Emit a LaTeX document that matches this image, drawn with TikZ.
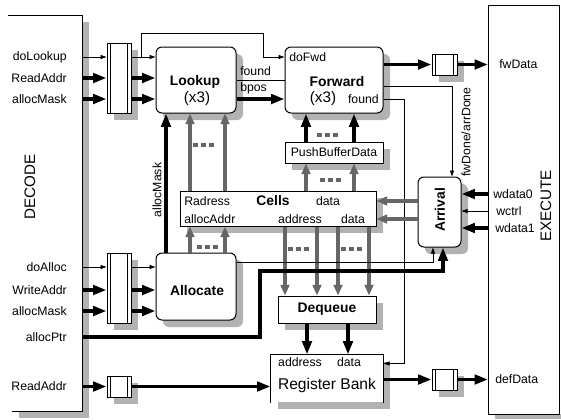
\documentclass[tikz,border=0pt]{standalone}
\usepackage{fontspec}
\setmainfont{Liberation Sans}
\usetikzlibrary{arrows.meta,shadows,calc}
\definecolor{shadegray}{RGB}{178,178,178}
\definecolor{wiregray}{RGB}{102,102,102}

\begin{document}
\begin{tikzpicture}[x=0.75pt, y=-0.75pt,
  every node/.style={font=\fontsize{9.2}{11}\selectfont, inner sep=0pt},
  boxshadow/.style={drop shadow={shadow xshift=5.25pt, shadow yshift=-5.25pt, opacity=1, fill=shadegray}},
  unitbox/.style={rectangle, rounded corners=4.5pt, draw=black, line width=0.75pt, fill=white, boxshadow},
  block/.style={rectangle, draw=black, line width=0.75pt, fill=white, boxshadow},
  latch/.style={rectangle, draw=black, line width=0.75pt, fill=white, boxshadow, minimum width=18pt,
    path picture={
      \draw[line width=0.6pt] ([xshift=2.6pt]path picture bounding box.north west) -- ([xshift=2.6pt]path picture bounding box.south west);
      \draw[line width=0.6pt] ([xshift=-2.6pt]path picture bounding box.north east) -- ([xshift=-2.6pt]path picture bounding box.south east);}},
  title/.style={font=\fontsize{10.4}{12}\selectfont\bfseries},
  mult/.style={font=\fontsize{11.4}{13}\selectfont},
  side/.style={font=\fontsize{11.4}{13}\selectfont, rotate=90},
  thinarr/.style={-{Triangle[length=4.5pt,width=3pt]}, line width=0.6pt},
  thinwire/.style={line width=0.6pt},
  thickarr/.style={-{Triangle[length=10pt,width=7pt]}, line width=2.8pt},
  grayarr/.style={-{Triangle[length=8pt,width=6.5pt]}, line width=2.4pt, draw=wiregray, color=wiregray},
  ellips/.style={line width=2.4pt, draw=wiregray, dash pattern=on 3.75pt off 2.25pt}
]
\useasboundingbox (0,0) rectangle (561,419);

% DECODE stage (left)
\fill[shadegray] (82,22) rectangle (89,418);
\fill[shadegray] (19,411) rectangle (89,418);
\draw[line width=0.75pt] (8,15) -- (82,15) -- (82,411) -- (12,411);
\coordinate (decR) at (82,0);
\node[side] (decodeLbl) at (30,187) {DECODE};

% EXECUTE stage (right)
\fill[shadegray] (495,414) rectangle (561,419);
\draw[line width=0.75pt] (488,5) rectangle (559,414);
\coordinate (exeL) at (488,0);
\node[side] (executeLbl) at (546,206) {EXECUTE};

% pipeline latches
\node[latch, minimum height=52.5pt] (latA) at (119,78) {};
\node[latch, minimum height=52.5pt] (latB) at (119,288) {};
\node[latch, minimum height=15.75pt] (latC) at (119,386.5) {};
\node[latch, minimum width=18.75pt, minimum height=15.75pt] (outA) at (444.5,64.5) {};
\node[latch, minimum width=18.75pt, minimum height=15.75pt] (outB) at (444.5,379.5) {};

% units
\node[unitbox, minimum width=60pt, minimum height=49.5pt] (lookup) at (196,80) {};
\node[unitbox, minimum width=73.5pt, minimum height=49.5pt] (forward) at (334,80) {};
\node[unitbox, minimum width=60pt, minimum height=50.25pt] (allocate) at (196,286.5) {};
\node[block, minimum width=147pt, minimum height=26.25pt] (cells) at (278,208.5) {};
\node[block, minimum width=73.5pt, minimum height=15.75pt] (pbd) at (334,152.5) {PushBufferData};
\node[block, title, minimum width=73.5pt, minimum height=20.25pt] (dequeue) at (327,309.5) {Dequeue};
\node[unitbox, minimum width=32.25pt, minimum height=52.5pt] (arrival) at (439.5,212) {};
\node[block, draw=none, minimum width=84pt, minimum height=35.25pt] (regbank) at (327,378.5) {};
\draw[line width=0.75pt] (regbank.south west) -- (regbank.north west) -- (regbank.north east) -- (regbank.south east);

% texts inside units
\node[title] (lookupTxt) at (195,82) {Lookup};
\node[mult] (lookupMul) at (197,99) {(x3)};
\node[anchor=west] (fwdDo) at (289,57) {doFwd};
\node[title] (fwdTxt) at (337,82) {Forward};
\node[mult] (fwdMul) at (323,99) {(x3)};
\node[anchor=east] (fwdFound) at (379,99) {found};
\node[title] (allocTxt) at (197,291) {Allocate};
\node[title, rotate=90] (arrivalTxt) at (440,210) {Arrival};
\node[anchor=west] (cRad) at (184,201) {Radress};
\node[title] (cTxt) at (273,201) {Cells};
\node (cDataA) at (328,201) {data};
\node[anchor=west] (cAlloc) at (184,219) {allocAddr};
\node (cAddr) at (300,219) {address};
\node (cDataB) at (353,219) {data};
\node (rAddr) at (300,362) {address};
\node (rData) at (349,362) {data};
\node[font=\fontsize{11.7}{14}\selectfont] (rTxt) at (327,385) {Register Bank};

% signal names
\node[anchor=east] (inDoLookup) at (67,57) {doLookup};
\node[anchor=east] (inReadA) at (67,78) {ReadAddr};
\node[anchor=east] (inMaskA) at (67,99) {allocMask};
\node[anchor=east] (inDoAlloc) at (67,267) {doAlloc};
\node[anchor=east] (inWrite) at (67,290) {WriteAddr};
\node[anchor=east] (inMaskB) at (67,311) {allocMask};
\node[anchor=east] (inPtr) at (67,337) {allocPtr};
\node[anchor=east] (inReadB) at (67,386) {ReadAddr};
\node[anchor=west] (outFw) at (499,64) {fwData};
\node[anchor=west] (outDef) at (495,379) {defData};
\node[anchor=west] (inW0) at (493,194) {wdata0};
\node[anchor=west] (inCtrl) at (496,211) {wctrl};
\node[anchor=west] (inW1) at (495,228) {wdata1};
\node[anchor=west] (lkFound) at (240,71) {found};
\node[anchor=west] (lkBpos) at (240,88) {bpos};
\node[rotate=90] (maskLbl) at (157,190) {allocMask};
\node[rotate=90] (doneLbl) at (466,132) {fwDone/arrDone};

% decode -> latches -> lookup / allocate
\foreach \sig/\sty in {inDoLookup/thinarr, inReadA/thickarr, inMaskA/thickarr} {
  \draw[\sty] (decR |- \sig) -- (latA.west |- \sig);
  \draw[\sty] (latA.east |- \sig) -- (lookup.west |- \sig);
}
\foreach \sig/\sty in {inDoAlloc/thinarr, inWrite/thickarr, inMaskB/thickarr} {
  \draw[\sty] (decR |- \sig) -- (latB.west |- \sig);
  \draw[\sty] (latB.east |- \sig) -- (allocate.west |- \sig);
}
\draw[thinarr] ($(latA.east |- inDoLookup)+(10,0)$) -- ++(0,-24) -| ($(forward.west |- inDoLookup)+(-21,0)$) -- (forward.west |- inDoLookup);

% lookup -> forward
\draw[thinwire] (lookup.east) -- (forward.west);
\draw[thickarr] (lookup.east |- lookupMul) -- (forward.west |- lookupMul);

% forward outputs
\draw[thickarr] (forward.east |- outA) -- (outA.west);
\draw[thickarr] (outA.east) -- (exeL |- outA);
\draw[thinarr] ($(forward.east)+(0,6)$) -| ($(arrival.north)+(12.5,0)$);
\draw[thinarr] (forward.east |- fwdFound) -- ++(21,0) |- ($(regbank.north east)+(0,9)$);

% cell array traffic
\foreach \xx in {190,225} {
  \draw[grayarr] (cells.north -| \xx,0) -- (lookup.south -| \xx,0);
  \draw[grayarr] (allocate.north -| \xx,0) -- (cells.south -| \xx,0);
}
\draw[thickarr] (allocate.north -| 166,0) -- (lookup.south -| 166,0);
\foreach \xx in {306,354} {
  \draw[grayarr] (cells.north -| \xx,0) -- (pbd.south -| \xx,0);
  \draw[thickarr] (pbd.north -| \xx,0) -- (forward.south -| \xx,0);
}
\foreach \xx in {285,317,338,369}
  \draw[grayarr] (cells.south -| \xx,0) -- (dequeue.north -| \xx,0);
\foreach \xx in {307,348}
  \draw[thickarr] (dequeue.south -| \xx,0) -- (regbank.north -| \xx,0);

% arrival
\draw[thinarr] ($(allocate.north east)+(0,10)$) -| ($(arrival.south)+(-6.5,0)$);
\draw[thickarr] (decR |- inPtr) -- ++(178,0) -- ++(0,-66) -| ($(arrival.south)+(3.5,0)$);
\draw[thickarr] (exeL |- inW0) -- (arrival.east |- inW0);
\draw[thinarr] (exeL |- inCtrl) -- (arrival.east |- inCtrl);
\draw[thickarr] (exeL |- inW1) -- (arrival.east |- inW1);
\draw[grayarr] (arrival.west |- cDataA) -- (cells.east |- cDataA);
\draw[grayarr] (arrival.west |- cDataB) -- (cells.east |- cDataB);

% register bank read path
\draw[thickarr] (decR |- latC) -- (latC.west);
\draw[thickarr] (latC.east) -- (regbank.west |- latC);
\draw[thickarr] (regbank.east |- outB) -- (outB.west);
\draw[thickarr] (outB.east) -- (exeL |- outB);

% ellipses between replicated ports
\draw[ellips] (193,145) -- (215,145);
\draw[ellips] (317,135) -- (339,135);
\draw[ellips] (320,180) -- (342,180);
\draw[ellips] (197,247) -- (219,247);
\draw[ellips] (288,249) -- (310,249);
\draw[ellips] (341,249) -- (363,249);
\end{tikzpicture}
\end{document}
